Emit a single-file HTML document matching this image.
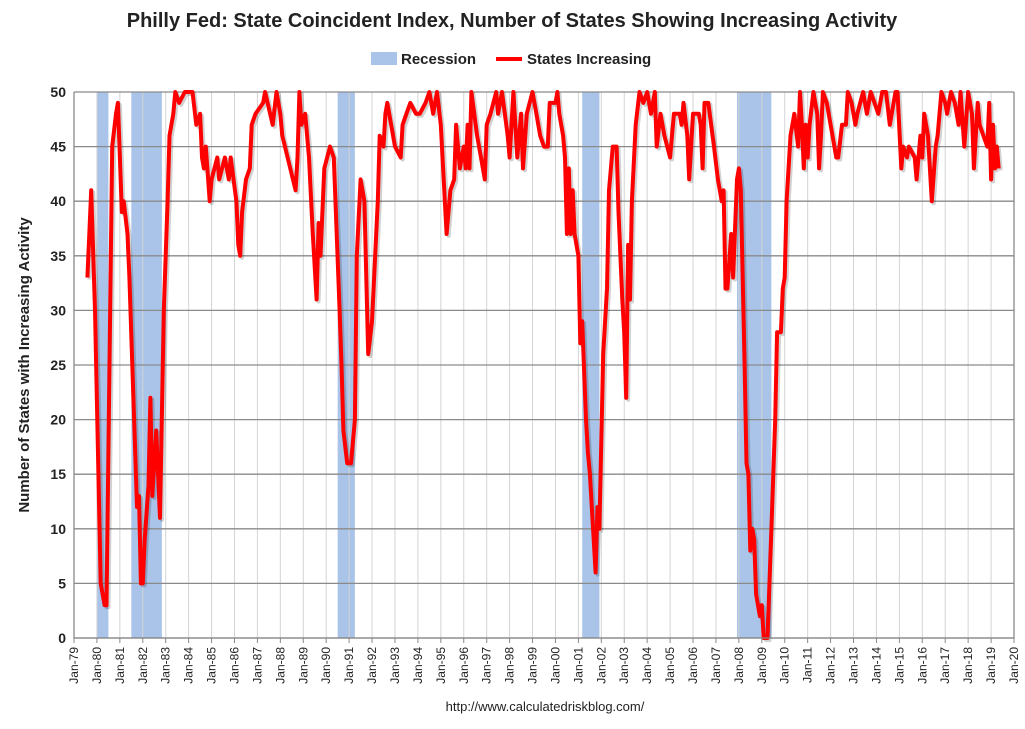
<!DOCTYPE html>
<html><head><meta charset="utf-8"><style>
body{margin:0;background:#fff;font-family:"Liberation Sans",sans-serif;}
svg text{font-family:"Liberation Sans",sans-serif;}
</style></head><body>
<svg id="chart" width="1025" height="724" viewBox="0 0 1025 724" xmlns="http://www.w3.org/2000/svg">
<rect width="1025" height="724" fill="#fff"/>
<text x="512" y="27" text-anchor="middle" font-size="20" font-weight="bold" fill="#222">Philly Fed: State Coincident Index, Number of States Showing Increasing Activity</text>
<g>
<g><rect x="371" y="52" width="26" height="13" fill="#a9c4e8"/><text x="401" y="64" font-size="15" font-weight="bold" fill="#222">Recession</text></g>
<g><line x1="496" y1="59" x2="522" y2="59" stroke="#f00" stroke-width="4"/><text x="527" y="64" font-size="15" font-weight="bold" fill="#222">States Increasing</text></g>
</g>
<text transform="translate(29,365) rotate(-90)" text-anchor="middle" font-size="15" font-weight="bold" fill="#222">Number of States with Increasing Activity</text>
<g id="recs"></g>
<g id="grid"></g>
<g id="series"></g>
<g id="axes"></g>
<text x="545" y="711" text-anchor="middle" font-size="13" fill="#222">http://www.calculatedriskblog.com/</text>
</svg>
<script>
const months=[7,9,11,14,16,17,20,22,23,24,25,26,28,29,33,34,35,36,37,39,40,41,43,45,47,49,50,52,53,55,58,62,64,66,67,68,69,71,72,75,76,79,81,82,85,86,87,88,90,92,93,95,99,100,104,106,108,109,116,117,118,119,121,123,125,127,128,129,131,134,136,139,140,141,143,145,147,148,150,152,154,156,159,160,162,163,164,168,171,172,174,176,179,181,184,186,188,190,192,195,197,199,200,202,204,205,206,207,208,211,213,215,216,218,221,222,224,227,228,230,232,234,235,237,240,242,244,246,248,249,252,253,254,256,257,258,259,260,261,262,264,265,266,268,269,270,273,274,275,277,279,280,282,284,285,287,288,289,290,291,292,294,296,298,300,302,304,305,307,308,309,312,314,317,318,319,321,322,324,327,328,329,330,332,335,337,339,340,341,342,344,345,347,348,349,351,352,353,354,355,356,357,359,360,361,363,365,367,368,370,371,372,373,375,377,379,380,381,382,383,384,385,387,389,390,391,392,394,397,399,400,402,404,405,407,409,410,413,415,417,419,421,423,425,427,429,430,431,433,434,436,437,440,441,443,444,445,447,449,451,452,454,456,457,459,461,463,464,466,468,470,471,473,474,476,478,479,480,481,482,483,484];
const values=[33,41,30,5,3,3,45,48,49,44,39,40,37,33,12,13,5,5,9,14,22,13,19,11,30,40,46,48,50,49,50,50,47,48,44,43,45,40,42,44,42,44,42,44,40,36,35,39,42,43,47,48,49,50,47,50,48,46,41,44,50,47,48,44,37,31,38,35,43,45,44,30,25,19,16,16,20,35,42,40,26,29,40,46,45,48,49,45,44,47,48,49,48,48,49,50,48,50,47,37,41,42,47,43,45,43,47,43,50,46,44,42,47,48,50,48,50,46,44,50,44,48,43,48,50,48,46,45,45,49,49,50,48,46,44,37,43,37,41,37,35,27,29,20,17,15,6,12,10,26,32,41,45,45,39,31,28,22,36,31,40,47,50,49,50,48,50,45,48,47,46,44,48,48,47,49,46,42,48,48,47,43,49,49,45,42,40,41,32,32,37,33,42,43,41,25,16,15,8,10,9,4,2,3,0,0,10,20,28,28,32,33,40,46,48,45,50,47,43,47,44,47,50,48,43,46,50,49,46,44,44,47,47,50,49,47,48,50,48,50,49,48,50,50,47,49,50,50,43,45,44,45,44,42,46,44,48,46,40,45,46,50,49,48,50,49,47,50,45,50,48,43,49,47,46,45,49,42,47,43,45,43];
const recStart=[12,30,138,266,347];
const recEnd=[18,46,147,275,365];
const yTicks=[0,5,10,15,20,25,30,35,40,45,50];
const xYears=[79,80,81,82,83,84,85,86,87,88,89,90,91,92,93,94,95,96,97,98,99,0,1,2,3,4,5,6,7,8,9,10,11,12,13,14,15,16,17,18,19,20];
const NS='http://www.w3.org/2000/svg';
const L=74,R=1014,T=92,B=638;
const xS=m=>L+m*(R-L)/492;
const yS=v=>B-v*(B-T)/50;
function mk(tag,attrs,parent){const e=document.createElementNS(NS,tag);for(const k in attrs)e.setAttribute(k,attrs[k]);parent.appendChild(e);return e;}
const recs=document.getElementById('recs'),grid=document.getElementById('grid'),series=document.getElementById('series'),axes=document.getElementById('axes');
recStart.forEach((s,i)=>{
 const r=mk('rect',{x:xS(s),y:T,width:xS(recEnd[i])-xS(s),height:B-T,fill:'#a9c4e8'},recs);
 
 
});
xYears.forEach((y,i)=>{
 const x=xS(i*12);
 if(i>0&&i<xYears.length-1){const g=mk('line',{x1:x,y1:T,x2:x,y2:B,stroke:'#d4d4d4','stroke-width':1},grid);
 
 }
 const t=mk('line',{x1:x,y1:B,x2:x,y2:B+5,stroke:'#888'},axes);
 
 
 const lb=mk('text',{transform:`translate(${x+4},${B+9}) rotate(-90)`,'text-anchor':'end','font-size':12,fill:'#222'},axes);
 lb.textContent='Jan-'+String(y).padStart(2,'0');
 
 
});
yTicks.forEach(v=>{
 const y=yS(v);
 const g=mk('line',{x1:L,y1:y,x2:R,y2:y,stroke:'#8a8a8a','stroke-width':1.3},grid);
 
 
 const lb=mk('text',{x:L-8,y:y+5,'text-anchor':'end','font-size':14,'font-weight':'bold',fill:'#222'},axes);
 lb.textContent=v;
 
 
});
const ax=mk('path',{d:`M${L},${T}V${B}H${R}V${T}`,fill:'none',stroke:'#888','stroke-width':1.3},axes);


const d=months.map((m,i)=>(i?'L':'M')+xS(m).toFixed(1)+','+yS(values[i]).toFixed(1)).join('');
const sh=mk('path',{d:d,fill:'none',stroke:'rgba(0,0,0,0.18)','stroke-width':4,transform:'translate(2,2)','stroke-linejoin':'round'},series);


const ln=mk('path',{d:d,fill:'none',stroke:'#f00','stroke-width':4,'stroke-linejoin':'round'},series);


</script>
</body></html>
